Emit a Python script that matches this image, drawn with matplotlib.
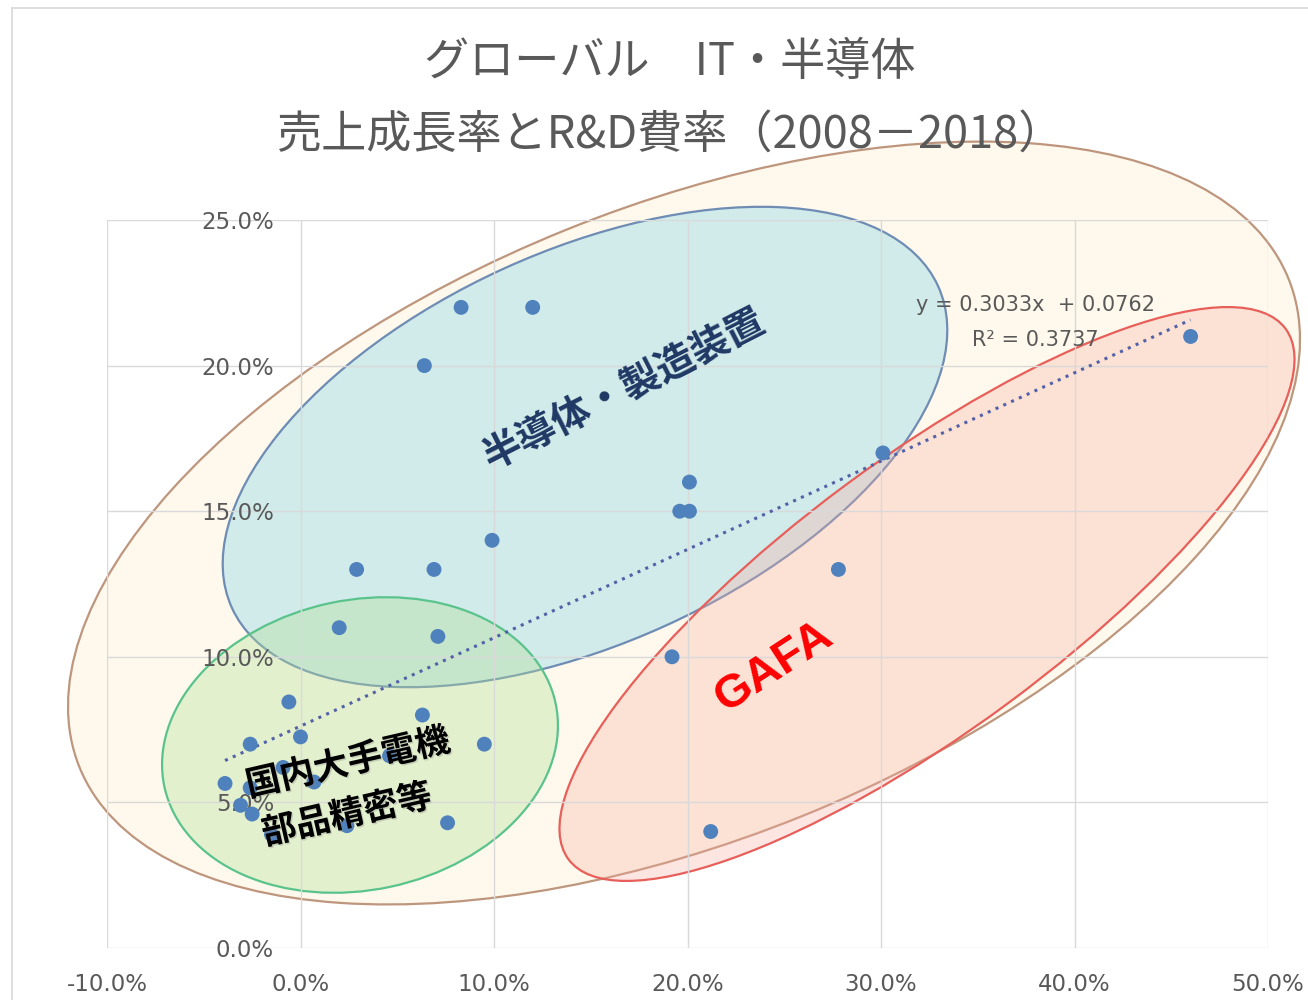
import matplotlib
matplotlib.use("Agg")
import matplotlib.pyplot as plt
import matplotlib.patheffects as pe
from matplotlib.patches import Ellipse
from matplotlib.lines import Line2D
from matplotlib.transforms import Affine2D
from matplotlib.ticker import PercentFormatter, FixedLocator

# sales growth (x, %) and R&D ratio (y, %), 2008-2018
# semiconductors / equipment
semi_growth = [8.3, 12.0, 6.4, 20.1, 19.6, 20.1, 9.9, 2.9, 6.9, 30.1, 46.0]
semi_rd = [22.0, 22.0, 20.0, 16.0, 15.0, 15.0, 14.0, 13.0, 13.0, 17.0, 21.0]
# GAFA
gafa_growth = [19.2, 27.8, 21.2]
gafa_rd = [10.0, 13.0, 4.0]
# japanese electronics / parts
jp_growth = [2.0, 7.1, -0.6, 6.3, 0.0, -2.6, 9.5, -3.9, -2.6, -0.9, 0.7,
             -3.1, -2.5, -1.5, 7.6, 4.6, 2.4]
jp_rd = [11.0, 10.7, 8.45, 8.0, 7.25, 7.0, 7.0, 5.65, 5.5, 6.2, 5.7,
         4.9, 4.6, 3.9, 4.3, 6.6, 4.2]

# excel linear trendline shown on the chart
trend_slope = 0.3033
trend_icpt = 0.0762
r_squared = 0.3737

x_ticks = [-10, 0, 10, 20, 30, 40, 50]
y_ticks = [0, 5, 10, 15, 20, 25]

plt.rcParams['axes.unicode_minus'] = False
plt.rcParams['font.family'] = ['DejaVu Sans']
cjk = ['Noto Sans CJK JP', 'DejaVu Sans']
grey = '#595959'

W, H = 1308, 1000
fig = plt.figure(figsize=(W / 100, H / 100), dpi=100)
# pixel coords, origin top-left, for the hand drawn shapes and labels
px = Affine2D().scale(1 / W, -1 / H).translate(0, 1) + fig.transFigure

ax = fig.add_axes([107 / W, 52 / H, (1268 - 107) / W, (948 - 220) / H])

xs = [v / 100 for v in semi_growth + gafa_growth + jp_growth]
ys = [v / 100 for v in semi_rd + gafa_rd + jp_rd]

# group ellipses (drawn like excel shapes)
ax.add_patch(Ellipse((684, 523), 1304, 632, angle=-22, transform=px, clip_on=False,
                     facecolor='#FEF9EC', edgecolor='#BE967D', lw=1.6, zorder=0.5))
ax.add_patch(Ellipse((585, 447), 776, 392, angle=-24.5, transform=px, clip_on=False,
                     facecolor=(0.47, 0.80, 0.90, 0.33), edgecolor='#6E8CB4', lw=1.6, zorder=0.6))
ax.add_patch(Ellipse((360, 745), 400, 290, angle=-12, transform=px, clip_on=False,
                     facecolor=(0.70, 0.88, 0.59, 0.35), edgecolor='#5AC38C', lw=1.6, zorder=0.7))
ax.add_patch(Ellipse((927, 594), 892, 272, angle=-36.5, transform=px, clip_on=False,
                     facecolor=(0.98, 0.67, 0.63, 0.30), edgecolor='#E85F5A', lw=1.6, zorder=0.8))

# trendline
tx = [min(xs), max(xs)]
ty = [trend_slope * v + trend_icpt for v in tx]
ax.plot(tx, ty, color='#5361A8', lw=2.2, linestyle=(0, (1, 1.8)), zorder=2)

ax.scatter(xs, ys, s=115, color='#4F81BD', edgecolors='none', zorder=3)

ax.set_xlim(-0.10, 0.50)
ax.set_ylim(0, 0.25)
ax.xaxis.set_major_locator(FixedLocator([v / 100 for v in x_ticks]))
ax.yaxis.set_major_locator(FixedLocator([v / 100 for v in y_ticks]))
ax.xaxis.set_major_formatter(PercentFormatter(xmax=1, decimals=1))
ax.yaxis.set_major_formatter(PercentFormatter(xmax=1, decimals=1))
ax.grid(True, color='#D9D9D9', lw=1.0)
for s in ax.spines.values():
    s.set_visible(False)
ax.spines['left'].set_position(('data', 0))
ax.tick_params(length=0, labelsize=16.5, labelcolor=grey)
ax.tick_params(axis='y', pad=19)
ax.tick_params(axis='x', pad=18)
ax.patch.set_alpha(0)

# titles
fig.text(670, 62, 'グローバル　IT・半導体', transform=px, ha='center', va='center',
         fontsize=32.5, color=grey, family=cjk)
fig.text(670, 135, '売上成長率とR&D費率（2008－2018）', transform=px, ha='center',
         va='center', fontsize=32.5, color=grey, family=cjk)

# group labels
shadow = [pe.withSimplePatchShadow(offset=(1, -1), shadow_rgbFace='#808080', alpha=0.3)]
ax.text(624, 390, '半導体・製造装置', transform=px, ha='center', va='center', rotation=27,
        rotation_mode='anchor', fontsize=28, fontweight='bold', color='#1F3864', family=cjk)
ax.text(774, 667, 'GAFA', transform=px, ha='center', va='center', rotation=33,
        rotation_mode='anchor', fontsize=34, fontweight='bold', color='#FF0000',
        family=['Liberation Sans', 'DejaVu Sans'], zorder=4)
ax.text(348, 763, '国内大手電機', transform=px, ha='center', va='center', rotation=13,
        rotation_mode='anchor', fontsize=25, fontweight='bold', color='black', family=cjk,
        path_effects=shadow, zorder=4)
ax.text(347, 815, '部品精密等', transform=px, ha='center', va='center', rotation=13,
        rotation_mode='anchor', fontsize=25, fontweight='bold', color='black', family=cjk,
        path_effects=shadow, zorder=4)

# trendline equation
ax.text(1035, 305, 'y = %.4fx  + %.4f' % (trend_slope, trend_icpt), transform=px,
        ha='center', va='center', fontsize=15, color=grey, zorder=4)
ax.text(1035, 340, 'R² = %.4f' % r_squared, transform=px, ha='center', va='center',
        fontsize=15, color=grey, zorder=4)

# chart border
fig.add_artist(Line2D([12, W], [8, 8], transform=px, color='#D9D9D9', lw=1.2))
fig.add_artist(Line2D([12, 12], [8, H], transform=px, color='#D9D9D9', lw=1.2))

fig.savefig('out.png', dpi=100)
